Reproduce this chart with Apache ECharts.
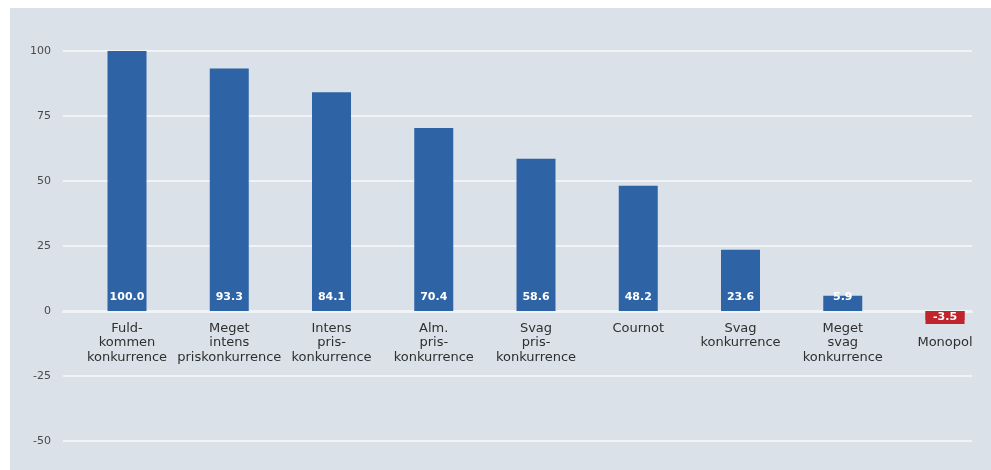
<!DOCTYPE html>
<html><head><meta charset="utf-8">
<script src="https://cdn.jsdelivr.net/npm/echarts@6/dist/echarts.min.js"></script>
<style>
html,body{margin:0;padding:0;background:#ffffff;overflow:hidden;}
#bg{position:absolute;left:10px;top:8px;width:981px;height:462px;background:#dae1e8;}
#c{position:absolute;left:0;top:0;width:991px;height:470px;}
</style></head>
<body>
<div id="bg"></div>
<div id="c"></div>
<script>
const categories = [
  "Fuld-\nkommen\nkonkurrence",
  "Meget\nintens\npriskonkurrence",
  "Intens\npris-\nkonkurrence",
  "Alm.\npris-\nkonkurrence",
  "Svag\npris-\nkonkurrence",
  "Cournot",
  "Svag\nkonkurrence",
  "Meget\nsvag\nkonkurrence",
  "Monopol"
];
const values = [100.0, 93.3, 84.1, 70.4, 58.6, 48.2, 23.6, 5.9, -3.5];
const yTicks = [-50, -25, 0, 25, 50, 75, 100];

const BLUE = '#2e64a6', RED = '#c0252b';
const FONT = 'DejaVu Sans, Liberation Sans, Arial, sans-serif';
const chart = echarts.init(document.getElementById('c'), null, {renderer: 'canvas'});
const data = values.map((v, i) => ({
  value: [i, v],
  itemStyle: {color: v < 0 ? RED : BLUE},
  label: v < 0 ? {position: 'insideTop', distance: 0, backgroundColor: RED,
                  width: 39, align: 'center', padding: [1, 0]} : {}
}));
chart.setOption({
  backgroundColor: 'transparent',
  animation: false,
  textStyle: {fontFamily: FONT},
  grid: {left: 63, right: 19, top: 51, bottom: 29, containLabel: false, outerBoundsMode: 'none'},
  xAxis: {
    type: 'value',
    min: -0.626, max: 8.264,
    position: 'bottom',
    offset: -129,
    axisLine: {show: true, onZero: false, lineStyle: {color: '#f1f4f7', width: 2}},
    axisTick: {show: false},
    splitLine: {show: false},
    axisLabel: {
      customValues: categories.map((c, i) => i),
      color: '#2f2f2f', fontSize: 13, lineHeight: 14.5, margin: 9,
      fontFamily: FONT,
      formatter: function (v) {
        const i = Math.round(v);
        return values[i] < 0 ? '\n' + categories[i] : categories[i];
      }
    }
  },
  yAxis: {
    type: 'value',
    min: yTicks[0], max: yTicks[yTicks.length - 1], interval: 25,
    axisLine: {show: false},
    axisTick: {show: false},
    axisLabel: {color: '#4a4a4a', fontSize: 11, margin: 12, fontFamily: FONT},
    splitLine: {lineStyle: {color: '#f1f4f7', width: 2}}
  },
  series: [{
    type: 'bar',
    barWidth: 39,
    data: data,
    label: {
      show: true,
      position: 'insideBottom',
      distance: 8,
      color: '#ffffff',
      fontSize: 11,
      fontWeight: 'bold',
      fontFamily: FONT,
      formatter: p => p.value[1].toFixed(1)
    }
  }]
});
</script>
</body></html>
